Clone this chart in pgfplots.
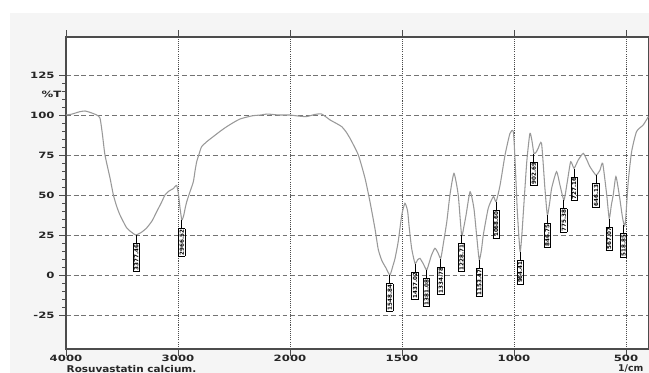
\documentclass[border=0pt]{standalone}
\usepackage{pgfplots}
\pgfplotsset{compat=1.18}
\usepackage{pgfplotstable}
\usepackage{fontspec}
\setmainfont{DejaVu Sans}
\usepackage{graphicx}
\newcommand{\tk}[1]{\scalebox{1.35}[1]{\bfseries #1}}
\newcommand{\pk}[1]{\setbox0=\hbox{\fboxsep=0.5pt\fboxrule=0.55pt\fbox{\rotatebox{90}{\fontsize{4.2}{4.2}\selectfont\bfseries #1}}}\vbox{\hbox to\wd0{\hss\vrule width 0.7pt height 6pt\hss}\nointerlineskip\box0}}

\pgfplotstableread{
w T
4000 100
3950 100.5
3880 102
3830 102.5
3780 101.5
3726 100
3696 98
3675 88
3652 75
3607 60.6
3577 50
3548 43
3518 37.5
3458 29.4
3410 26.5
3377 25
3330 26.5
3280 29.4
3230 34
3190 39.6
3150 45
3116 50
3080 52.5
3042 54
3012 56
2995 50
2982 42
2966 34.4
2950 37
2935 42
2922 45.8
2893 52
2863 58.3
2848 65
2833 70.8
2810 76
2789 80.2
2740 83.5
2685 86.5
2620 90
2565 92.7
2500 95.5
2446 97.5
2380 98.8
2327 99.6
2260 100
2208 100.6
2150 100.3
2100 100
2030 100
2000 100
1960 99.3
1926 99
1890 100.3
1859 100.6
1821 96.9
1790 94.5
1769 92.7
1750 89.5
1732 85.4
1695 75
1665 60.4
1643 45.8
1621 29.2
1606 16
1590 9
1572 4.5
1554 0
1540 6
1531 10.4
1517 20.8
1501 37.5
1487 44.8
1475 40
1468 30
1457 16.7
1442 7.3
1430 9.5
1420 10.4
1405 7
1390 3.1
1378 8
1368 12.5
1353 16.7
1340 14
1327 10.4
1315 20
1300 33.3
1286 50
1268 63.5
1249 50
1234 25
1224 30
1214 37.5
1196 52
1179 41.7
1165 22
1155 9.4
1145 16
1137 25
1115 41.7
1092 49
1080 45.8
1062 56.3
1040 75
1018 88.5
1003 89.6
995 70.8
985 39.6
973 14.6
965 25
958 39.6
943 70.8
929 88.5
920 84
911 76
900 77
892 79.2
877 82.3
862 54.2
851 37.5
840 46
832 54.2
810 64.6
795 56.3
777 46.9
762 58.3
747 70.8
732 66.7
713 71.9
691 76
675 72
661 67.7
634 62.5
616 65.6
604 69.8
586 50
575 35.4
565 44
557 50
545 61.5
530 50
515 35.4
504 31.3
490 58.3
475 77
453 89.6
423 93.8
400 99
}\spectrum

\pgfplotstableread{
w T label
3372 25 3377.46
2966 34.4 2966.52
1554 0 1548.84
1442 7.3 1437.02
1390 3.1 1381.08
1327 10.4 1334.78
1234 25 1228.71
1155 9.4 1153.47
1080 45.8 1068.60
973 14.6 964.41
911 76 902.69
851 37.5 846.75
777 46.9 775.38
732 66.7 727.16
634 62.5 646.13
575 35.4 567.07
511 31.3 518.85
}\peaks

\begin{document}
\begin{tikzpicture}
\useasboundingbox (-49.5pt,-18pt) rectangle (437.25pt,261.75pt);
\fill[black!4] (-42pt,-18pt) rectangle (437.25pt,252pt);
\begin{axis}[
  at={(0pt,0pt)}, anchor=south west,
  scale only axis, width=436.8pt, height=234pt,
  xmin=0, xmax=5.2, ymin=-46.25, ymax=148.75,
  x filter/.expression={x>=2000 ? (4000-x)/1000 : 2+(2000-x)/500},
  axis background/.style={fill=white},
  axis line style={black!70, line width=0.8pt},
  tick align=outside,
  major tick length=5pt, minor tick length=3pt,
  tick style={black!70, line width=0.6pt},
  xtick={0,1,3,4,5},
  xticklabels={\tk{4000},\tk{3000},\tk{1500},\tk{1000},\tk{500}},
  minor x tick num=4,
  ytick={-25,0,25,50,75,100,125},
  yticklabels={\tk{-25},\tk{0},\tk{25},\tk{50},\tk{75},\tk{100},\tk{125}},
  minor y tick num=4,
  ticklabel style={font=\fontsize{6.5}{7}\selectfont, text=black!85},
  xticklabel style={yshift=4pt},
  xmajorgrids, ymajorgrids,
  x grid style={black!70, line width=0.6pt, dash pattern=on 0.8pt off 0.8pt},
  y grid style={black!55, line width=0.6pt, dash pattern=on 3.6pt off 2.2pt},
  extra x ticks={2},
  extra x tick labels={\tk{2000}},
  extra x tick style={grid=major, major grid style={solid, black!75, line width=1pt, dash pattern=}},
  extra y ticks={113},
  extra y tick labels={\tk{\%T}},
  extra y tick style={grid=none, major tick length=0pt},
  clip=false,
]
\addplot[black!40, line width=0.8pt, smooth, tension=0.35] table[x=w, y=T] {\spectrum};
\addplot[draw=none, mark=none, point meta=explicit symbolic,
  nodes near coords={\pk{\pgfplotspointmeta}},
  every node near coord/.append style={anchor=north, inner sep=0pt, text=black}]
  table[x=w, y=T, meta=label] {\peaks};
\end{axis}
\node[anchor=west, font=\fontsize{7}{7}\selectfont\bfseries, text=black!85] at (-3pt,-15pt) {\scalebox{1.12}[1]{Rosuvastatin calcium.}};
\node[anchor=east, font=\fontsize{7}{7}\selectfont\bfseries, text=black!85] at (436.5pt,-15pt) {1/cm};
\end{tikzpicture}
\end{document}
